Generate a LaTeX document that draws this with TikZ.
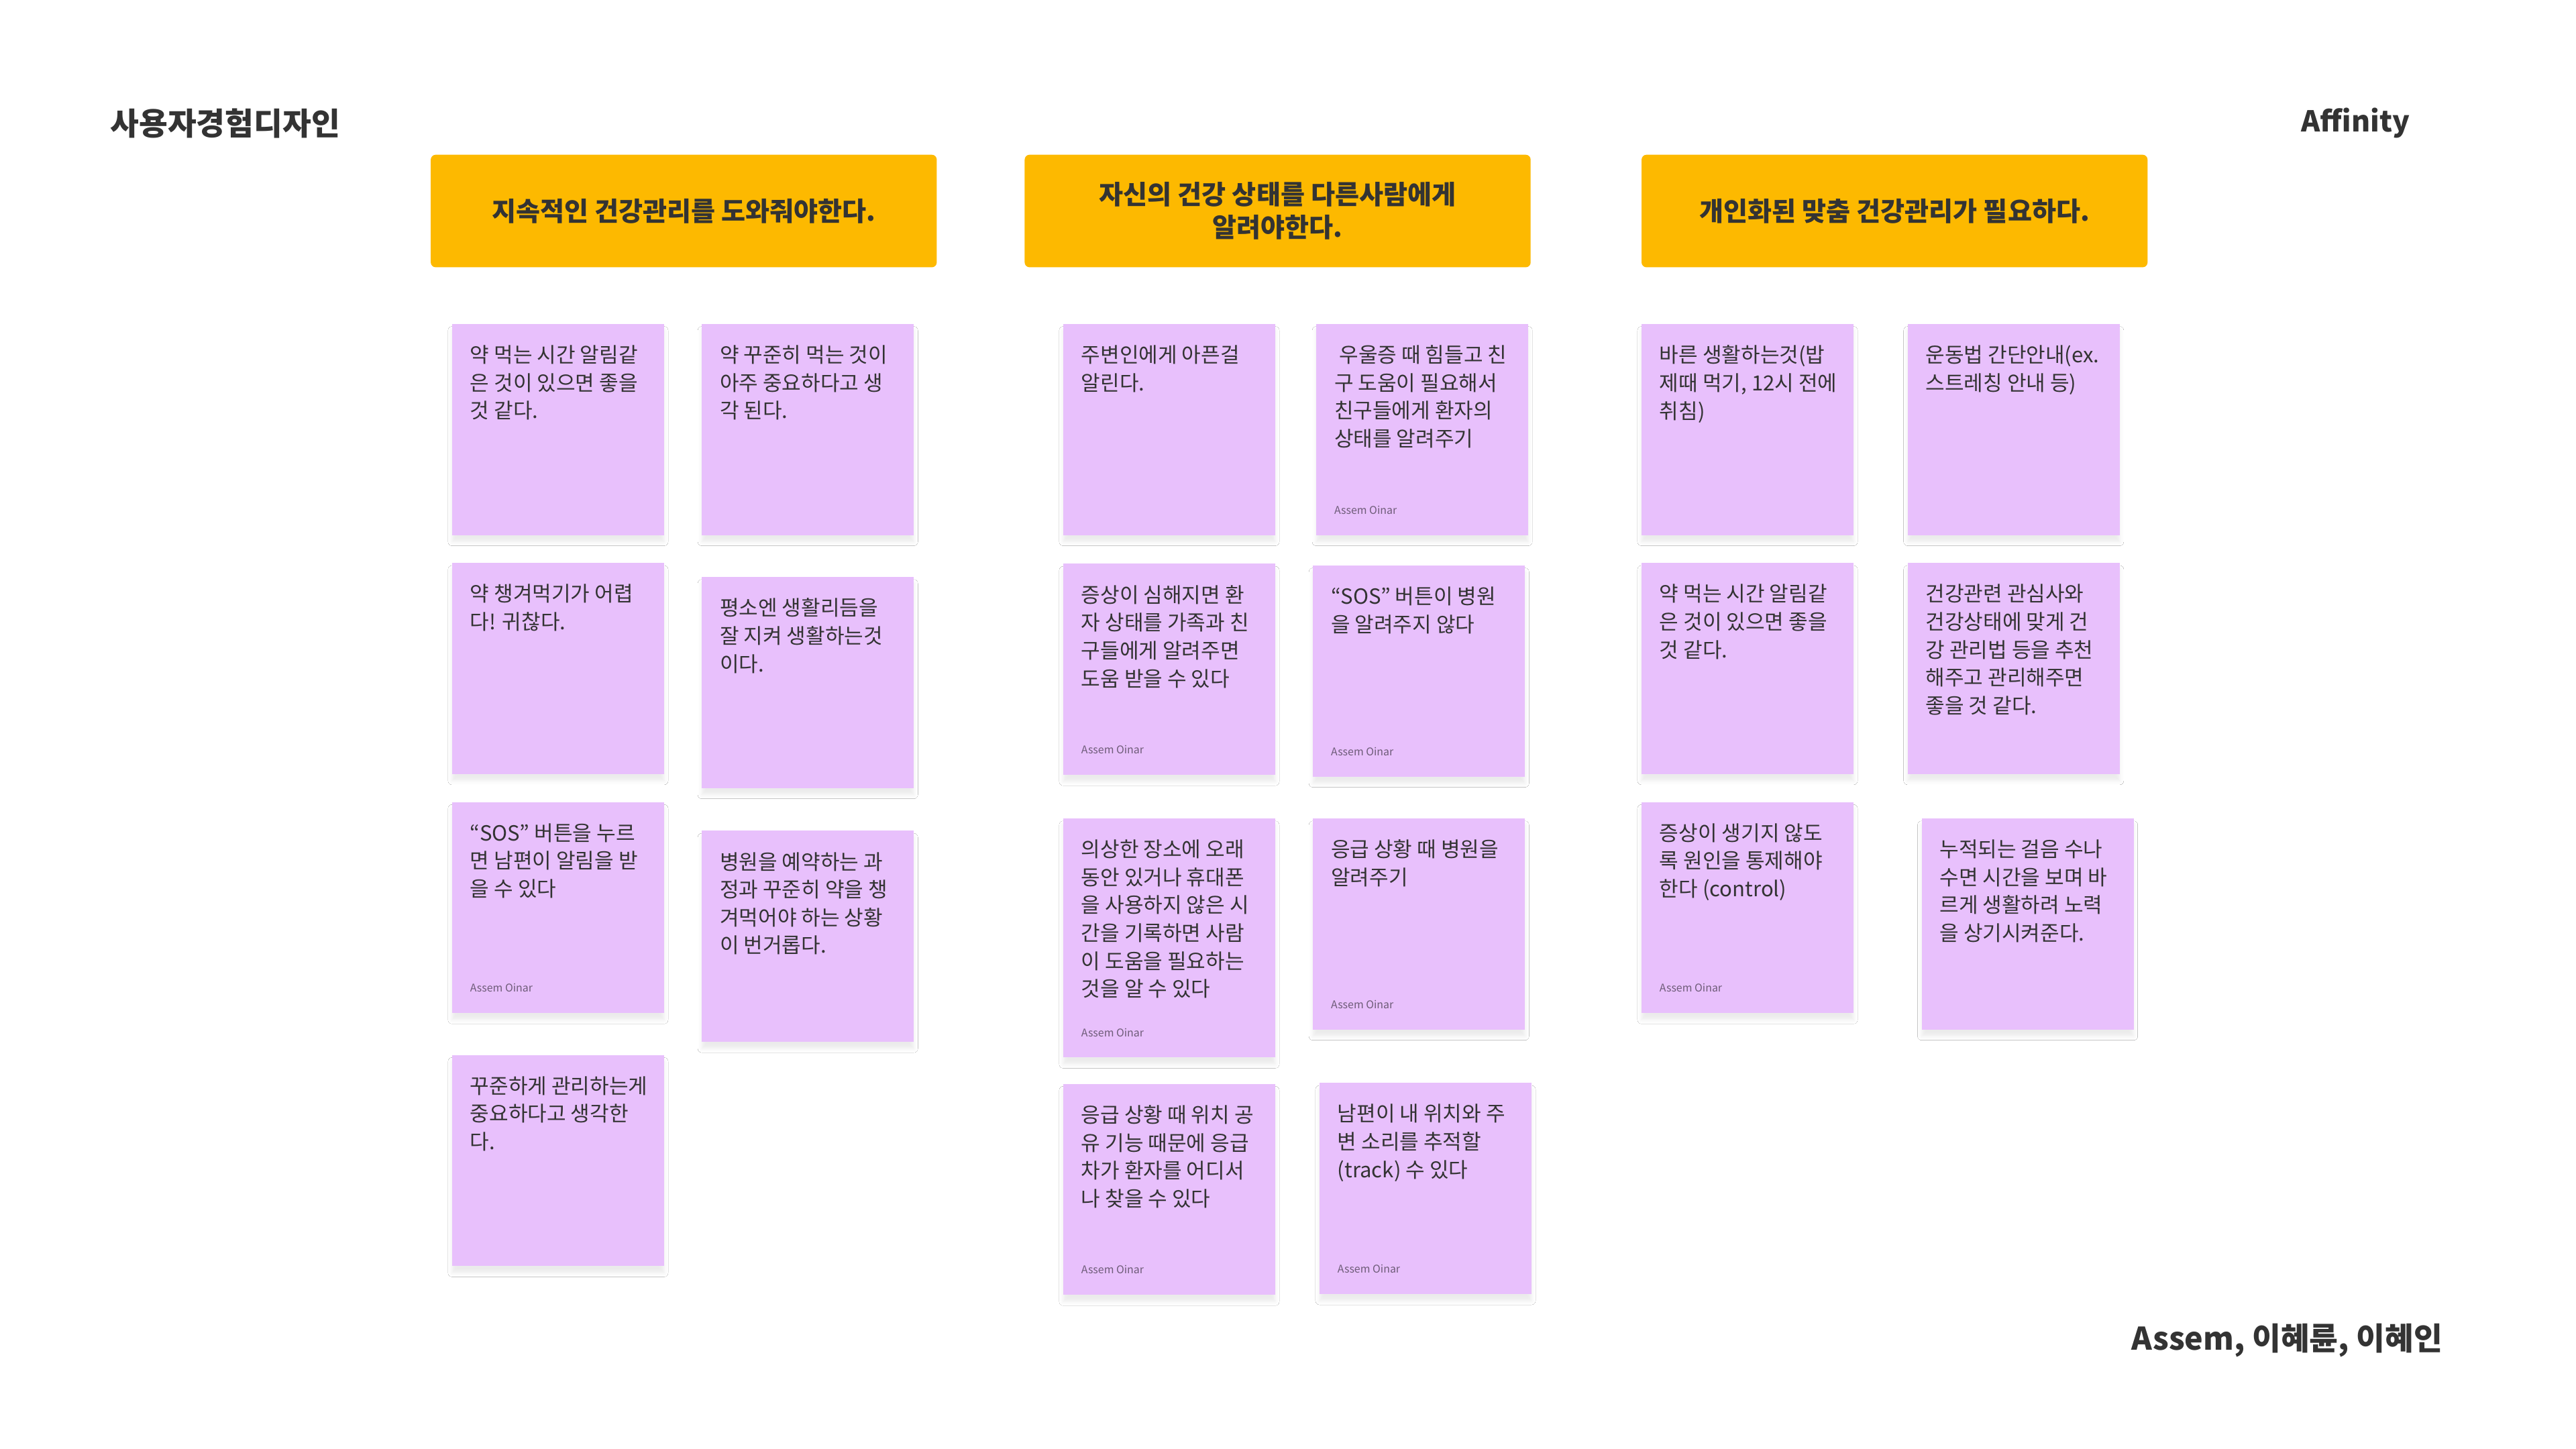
\documentclass[tikz,border=0pt]{standalone}
\usepackage{fontspec}
\setmainfont{Noto Sans CJK KR}
\usetikzlibrary{positioning, shadows.blur}
\definecolor{Ink}{HTML}{333333}
\definecolor{Gold}{HTML}{FDB900}
\definecolor{Lilac}{HTML}{E8C0FC}
\definecolor{TagGray}{HTML}{6E5C78}
\tikzset{
    header/.style={rectangle, rounded corners=3pt, fill=Gold, minimum width=308pt, minimum height=68.5pt, anchor=north west, text=Ink, align=center, font=\bfseries\fontsize{16}{20}\selectfont},
    sticky/.style={rectangle, fill=Lilac, minimum width=129pt, minimum height=128.5pt, anchor=north west, inner sep=0pt,
        blur shadow={shadow xshift=0pt, shadow yshift=-4pt, shadow blur radius=2.5pt, shadow opacity=8}},
    note/.style={anchor=north west, xshift=11pt, yshift=-13pt, inner sep=0pt, align=left, text=Ink, font=\fontsize{12.7}{17}\selectfont},
    tag/.style={anchor=base west, xshift=11pt, yshift=13pt, inner sep=0pt, text=TagGray, font=\fontsize{6.5}{7}\selectfont},
    title/.style={inner sep=0pt, text=Ink, font=\bfseries\fontsize{19}{22}\selectfont},
}
\begin{document}
\begin{tikzpicture}[x=1pt, y=-1pt]
    \fill[white] (0,0) rectangle (1568,882);
    \useasboundingbox (0,0) rectangle (1568,882);

    % Titoli
    \node[title, anchor=west] (course) at (67,75) {사용자경험디자인};
    \node[title, anchor=east, font=\bfseries\fontsize{17.5}{20}\selectfont] (method) at (1467,75) {Affinity};
    \node[title, anchor=east] (team) at (1487,816) {Assem, 이혜륜, 이혜인};

    % Gruppi
    \node[header] (h1) at (262,94) {지속적인 건강관리를 도와줘야한다.};
    \node[header] (h2) at (623.5,94) {자신의 건강 상태를 다른사람에게\\알려야한다.};
    \node[header] (h3) at (999,94) {개인화된 맞춤 건강관리가 필요하다.};

    % Gruppo 1
    \node[sticky] (a1) at (275,197) {};
    \node[note] (a1t) at (a1.north west) {약 먹는 시간 알림같\\은 것이 있으면 좋을\\것 같다.};
    \node[sticky] (a2) at (275,342.5) {};
    \node[note] (a2t) at (a2.north west) {약 챙겨먹기가 어렵\\다! 귀찮다.};
    \node[sticky] (a3) at (275,488) {};
    \node[note] (a3t) at (a3.north west) {“SOS” 버튼을 누르\\면 남편이 알림을 받\\을 수 있다};
    \node[tag] (a3s) at (a3.south west) {Assem Oinar};
    \node[sticky] (a4) at (275,642) {};
    \node[note] (a4t) at (a4.north west) {꾸준하게 관리하는게\\중요하다고 생각한\\다.};

    \node[sticky] (b1) at (427,197) {};
    \node[note] (b1t) at (b1.north west) {약 꾸준히 먹는 것이\\아주 중요하다고 생\\각 된다.};
    \node[sticky] (b2) at (427,351) {};
    \node[note] (b2t) at (b2.north west) {평소엔 생활리듬을\\잘 지켜 생활하는것\\이다.};
    \node[sticky] (b3) at (427,505.5) {};
    \node[note] (b3t) at (b3.north west) {병원을 예약하는 과\\정과 꾸준히 약을 챙\\겨먹어야 하는 상황\\이 번거롭다.};

    % Gruppo 2
    \node[sticky] (c1) at (647,197) {};
    \node[note] (c1t) at (c1.north west) {주변인에게 아픈걸\\알린다.};
    \node[sticky] (c2) at (647,343) {};
    \node[note] (c2t) at (c2.north west) {증상이 심해지면 환\\자 상태를 가족과 친\\구들에게 알려주면\\도움 받을 수 있다};
    \node[tag] (c2s) at (c2.south west) {Assem Oinar};
    \node[sticky, minimum height=145.5pt] (c3) at (647,498) {};
    \node[note] (c3t) at (c3.north west) {의상한 장소에 오래\\동안 있거나 휴대폰\\을 사용하지 않은 시\\간을 기록하면 사람\\이 도움을 필요하는\\것을 알 수 있다};
    \node[tag] (c3s) at (c3.south west) {Assem Oinar};
    \node[sticky] (c4) at (647,659.5) {};
    \node[note] (c4t) at (c4.north west) {응급 상황 때 위치 공\\유 기능 때문에 응급\\차가 환자를 어디서\\나 찾을 수 있다};
    \node[tag] (c4s) at (c4.south west) {Assem Oinar};

    \node[sticky] (d1) at (801,197) {};
    \node[note] (d1t) at (d1.north west) {\hspace*{3pt}우울증 때 힘들고 친\\구 도움이 필요해서\\친구들에게 환자의\\상태를 알려주기};
    \node[tag] (d1s) at (d1.south west) {Assem Oinar};
    \node[sticky] (d2) at (799,344) {};
    \node[note] (d2t) at (d2.north west) {“SOS” 버튼이 병원\\을 알려주지 않다};
    \node[tag] (d2s) at (d2.south west) {Assem Oinar};
    \node[sticky] (d3) at (799,498) {};
    \node[note] (d3t) at (d3.north west) {응급 상황 때 병원을\\알려주기};
    \node[tag] (d3s) at (d3.south west) {Assem Oinar};
    \node[sticky] (d4) at (803,659) {};
    \node[note] (d4t) at (d4.north west) {남편이 내 위치와 주\\변 소리를 추적할\\(track) 수 있다};
    \node[tag] (d4s) at (d4.south west) {Assem Oinar};

    % Gruppo 3
    \node[sticky] (e1) at (999,197) {};
    \node[note] (e1t) at (e1.north west) {바른 생활하는것(밥\\제때 먹기, 12시 전에\\취침)};
    \node[sticky] (e2) at (999,342.5) {};
    \node[note] (e2t) at (e2.north west) {약 먹는 시간 알림같\\은 것이 있으면 좋을\\것 같다.};
    \node[sticky] (e3) at (999,488) {};
    \node[note] (e3t) at (e3.north west) {증상이 생기지 않도\\록 원인을 통제해야\\한다 (control)};
    \node[tag] (e3s) at (e3.south west) {Assem Oinar};

    \node[sticky] (f1) at (1161,197) {};
    \node[note] (f1t) at (f1.north west) {운동법 간단안내(ex.\\스트레칭 안내 등)};
    \node[sticky] (f2) at (1161,342.5) {};
    \node[note] (f2t) at (f2.north west) {건강관련 관심사와\\건강상태에 맞게 건\\강 관리법 등을 추천\\해주고 관리해주면\\좋을 것 같다.};
    \node[sticky] (f3) at (1169.5,498) {};
    \node[note] (f3t) at (f3.north west) {누적되는 걸음 수나\\수면 시간을 보며 바\\르게 생활하려 노력\\을 상기시켜준다.};
\end{tikzpicture}
\end{document}
